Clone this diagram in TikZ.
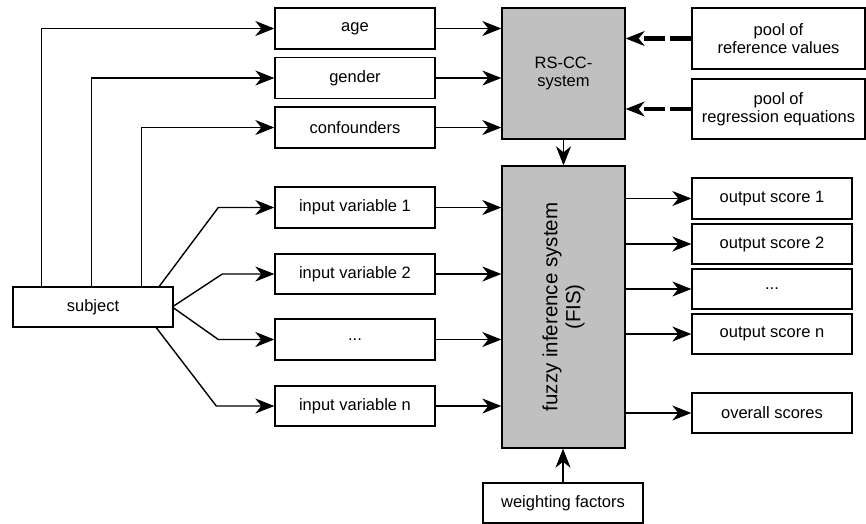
\documentclass[tikz,border=0pt]{standalone}
\usepackage{fontspec}
\setmainfont{Liberation Sans}
\usetikzlibrary{arrows.meta}
\definecolor{boxgrey}{RGB}{192,192,192}
\begin{document}
\begin{tikzpicture}[x=1pt,y=-1pt,
  every node/.style={font=\fontsize{16.5}{18.5}\selectfont},
  box/.style={draw, line width=1.4pt, inner sep=0pt, align=center,
    minimum width=160pt, minimum height=41pt},
  sysbox/.style={box, fill=boxgrey, minimum width=123pt},
  tip/.style={-{Stealth[length=19pt,width=15pt,inset=6pt,line width=0.8pt]}},
  arr/.style={line width=1.4pt, tip},
  dasharr/.style={line width=4.2pt, dash pattern=on 21pt off 5pt, tip}]
\useasboundingbox (0,0) rectangle (866,523);

% boxes feeding the RS-CC system
\node[box] (age) at (355,28.5) {age};
\node[box] (gender) at (355,78) {gender};
\node[box] (conf) at (355,127.5) {confounders};
\node[sysbox, minimum height=131pt] (rs) at (563.5,73.5) {RS-CC-\\system};
\node[box, minimum width=173pt, minimum height=61pt] (pool1) at (778.5,38.5) {pool of\\reference values};
\node[box, minimum width=173pt, minimum height=60pt] (pool2) at (778.5,109) {pool of\\regression equations};

% input side
\node[box, minimum height=40pt] (subject) at (93,307) {subject};
\node[box] (in1) at (355,207.5) {input variable 1};
\node[box, minimum height=40pt] (in2) at (355,274) {input variable 2};
\node[box] (ind) at (355,339.5) {...};
\node[box, minimum height=40pt] (inn) at (355,406) {input variable n};

% fuzzy inference system
\node[sysbox, minimum height=282pt] (fis) at (563.5,307) {};
\node[rotate=90, align=center, font=\fontsize{20.5}{23}\selectfont] (fislabel) at (fis.center) {fuzzy inference system\\(FIS)};

% outputs
\node[box] (out1) at (772,198.5) {output score 1};
\node[box, minimum height=40pt] (out2) at (772,244) {output score 2};
\node[box, minimum height=40pt] (outd) at (772,289) {...};
\node[box, minimum height=40pt] (outn) at (772,334) {output score n};
\node[box, minimum height=40pt] (overall) at (772,413) {overall scores};
\node[box, minimum height=40pt] (wf) at (563,503) {weighting factors};

% subject to the RS-CC inputs
\draw[arr] ([xshift=29pt]subject.north west) |- (age.west);
\draw[arr] ([xshift=79pt]subject.north west) |- (gender.west);
\draw[arr] ([xshift=129pt]subject.north west) |- (conf.west);

% subject to the input variables
\draw[arr] ([xshift=147pt]subject.north west) -- ([xshift=-56pt]in1.west) -- (in1.west);
\draw[arr] ([yshift=1pt]subject.east) -- ([xshift=-52pt]in2.west) -- (in2.west);
\draw[arr] ([yshift=-1pt]subject.east) -- ([xshift=-56pt]ind.west) -- (ind.west);
\draw[arr] ([xshift=144pt]subject.south west) -- ([xshift=-58pt]inn.west) -- (inn.west);

% into the RS-CC system
\draw[arr] (age.east) -- (age -| rs.west);
\draw[arr] (gender.east) -- (gender -| rs.west);
\draw[arr] (conf.east) -- (conf -| rs.west);
\draw[dasharr] (pool1.west) -- (pool1 -| rs.east);
\draw[dasharr] (pool2.west) -- (pool2 -| rs.east);
\draw[arr] (rs.south) -- (fis.north);

% into the FIS
\draw[arr] (in1.east) -- (in1 -| fis.west);
\draw[arr] (in2.east) -- (in2 -| fis.west);
\draw[arr] (ind.east) -- (ind -| fis.west);
\draw[arr] (inn.east) -- (inn -| fis.west);
\draw[arr] (wf.north) -- (wf.north |- fis.south);

% out of the FIS
\draw[arr] (out1 -| fis.east) -- (out1.west);
\draw[arr] (out2 -| fis.east) -- (out2.west);
\draw[arr] (outd -| fis.east) -- (outd.west);
\draw[arr] (outn -| fis.east) -- (outn.west);
\draw[arr] (overall -| fis.east) -- (overall.west);
\end{tikzpicture}
\end{document}
